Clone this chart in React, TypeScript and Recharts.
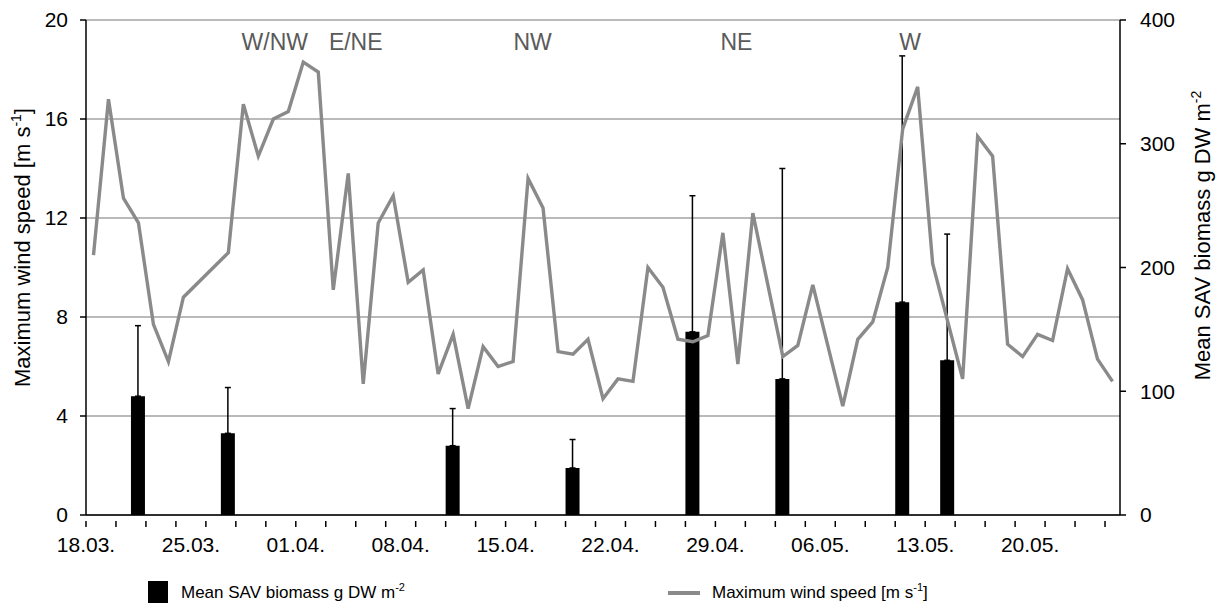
import React from 'react';
import {
  ComposedChart,
  Line,
  Bar,
  ErrorBar,
  XAxis,
  YAxis,
  CartesianGrid,
  ReferenceDot,
} from 'recharts';

// day 0 = 18.03.; daily maximum wind speed, null where no value was logged
const windSpeed: (number | null)[] = [
  10.5, 16.8, 12.8, 11.8, 7.7, 6.2, 8.8, null, null, 10.6,
  16.6, 14.5, 16.0, 16.3, 18.3, 17.9, 9.1, 13.8, 5.3, 11.8,
  12.9, 9.4, 9.9, 5.7, 7.3, 4.3, 6.8, 6.0, 6.2, 13.6,
  12.4, 6.6, 6.5, 7.1, 4.7, 5.5, 5.4, 10.0, 9.2, 7.1,
  7.0, 7.25, 11.4, 6.1, 12.2, null, 6.4, 6.85, 9.3, null,
  4.4, 7.1, 7.8, 10.0, 15.6, 17.3, 10.15, null, 5.5, 15.3,
  14.5, 6.9, 6.4, 7.3, 7.05, 9.95, 8.7, 6.3, 5.4,
];

// SAV sampling campaigns (day index), mean biomass and upper error
const sampleDays = [3, 9, 24, 32, 40, 46, 54, 57];
const biomassMean = [96, 66, 56, 38, 148, 110, 172, 125];
const biomassErr = [57, 37, 30, 23, 110, 170, 199, 102];

const dateLabels = ['18.03.', '25.03.', '01.04.', '08.04.', '15.04.', '22.04.', '29.04.', '06.05.', '13.05.', '20.05.'];

// prevailing wind direction during storm events
const windDirections = ['W/NW', 'E/NE', 'NW', 'NE', 'W'];
const directionDays = [12.6, 18.0, 29.8, 43.4, 55.0];

const DAYS = windSpeed.length;
const FONT = '"Liberation Sans", Arial, sans-serif';

const chartData = windSpeed.map((wind, i) => {
  const s = sampleDays.indexOf(i);
  return {
    day: i + 0.5,
    wind,
    biomass: s >= 0 ? biomassMean[s] : null,
    biomassErr: s >= 0 ? [0, biomassErr[s]] : undefined,
  };
});

// minor ticks every 2 days, labels every week
const xTicks = Array.from(new Set([
  ...Array.from({ length: 35 }, (_, k) => k * 2),
  ...dateLabels.map((_, k) => k * 7),
])).sort((a, b) => a - b);

const DayTick = ({ x, y, payload }: any) => {
  const v = payload.value as number;
  return (
    <g>
      {v % 2 === 0 && <line x1={x} x2={x} y1={y} y2={y + 6} stroke="#000" strokeWidth={1.5} />}
      {v % 7 === 0 && (
        <text x={x} y={y + 31} textAnchor="middle" fontSize={21} fontFamily={FONT} fill="#000">
          {dateLabels[v / 7]}
        </text>
      )}
    </g>
  );
};

const VerticalTitle = ({ cx, cy, main, sup, tail }: { cx: number; cy: number; main: string; sup: string; tail?: string }) => (
  <text
    x={cx}
    y={cy}
    transform={`rotate(-90 ${cx} ${cy})`}
    textAnchor="middle"
    fontSize={22}
    fontFamily={FONT}
    fill="#000"
  >
    {main}
    <tspan dy={-9} fontSize={14}>{sup}</tspan>
    {tail && <tspan dy={9}>{tail}</tspan>}
  </text>
);

export default function App() {
  return (
    <div style={{ position: 'absolute', left: 0, top: 0, width: 1227, height: 608, background: '#fff', fontFamily: FONT }}>
      <ComposedChart
        width={1227}
        height={608}
        data={chartData}
        margin={{ top: 20, right: 0, bottom: 0, left: 0 }}
      >
        <CartesianGrid
          xAxisId="days"
          yAxisId="wind"
          vertical={false}
          stroke="#a3a3a3"
          strokeWidth={1.5}
        />
        <XAxis
          xAxisId="days"
          dataKey="day"
          type="number"
          domain={[0, DAYS]}
          ticks={xTicks}
          interval={0}
          height={93}
          tickLine={false}
          tickMargin={0}
          axisLine={{ stroke: '#000', strokeWidth: 1.5 }}
          tick={<DayTick />}
        />
        <YAxis
          yAxisId="wind"
          domain={[0, 20]}
          ticks={[0, 4, 8, 12, 16, 20]}
          interval={0}
          width={86}
          tickSize={6}
          tickMargin={12}
          axisLine={{ stroke: '#000', strokeWidth: 1.5 }}
          tickLine={{ stroke: '#000', strokeWidth: 1.5 }}
          tick={{ fill: '#000', fontSize: 21, fontFamily: FONT }}
          label={(props: any) => (
            <VerticalTitle
              cx={props.viewBox.x + 30}
              cy={props.viewBox.y + props.viewBox.height / 2 - 20}
              main="Maximum wind speed [m s"
              sup="-1"
              tail="]"
            />
          )}
        />
        <YAxis
          yAxisId="bio"
          orientation="right"
          domain={[0, 400]}
          ticks={[0, 100, 200, 300, 400]}
          interval={0}
          width={107}
          tickSize={6}
          tickMargin={14}
          axisLine={{ stroke: '#000', strokeWidth: 1.5 }}
          tickLine={{ stroke: '#000', strokeWidth: 1.5 }}
          tick={{ fill: '#000', fontSize: 21, fontFamily: FONT, textAnchor: 'start' }}
          label={(props: any) => (
            <VerticalTitle
              cx={props.viewBox.x + 90}
              cy={props.viewBox.y + props.viewBox.height / 2 - 32}
              main="Mean SAV biomass g DW m"
              sup="-2"
            />
          )}
        />
        <Bar
          xAxisId="days"
          yAxisId="bio"
          dataKey="biomass"
          fill="#000"
          barSize={14}
          isAnimationActive={false}
        >
          <ErrorBar dataKey="biomassErr" direction="y" width={3} stroke="#000" strokeWidth={1.5} />
        </Bar>
        <Line
          xAxisId="days"
          yAxisId="wind"
          dataKey="wind"
          type="linear"
          stroke="#8a8a8a"
          strokeWidth={3.4}
          strokeLinejoin="miter"
          dot={false}
          activeDot={false}
          connectNulls
          isAnimationActive={false}
        />
        {windDirections.map((d, k) => (
          <ReferenceDot
            key={d + k}
            xAxisId="days"
            yAxisId="wind"
            x={directionDays[k]}
            y={19.1}
            r={0}
            fill="none"
            stroke="none"
            ifOverflow="visible"
            label={{ value: d, position: 'center', fill: '#5a5a5a', fontSize: 23, fontFamily: FONT }}
          />
        ))}
      </ComposedChart>

      <div style={{ position: 'absolute', left: 148, top: 581, width: 20, height: 22, background: '#000' }} />
      <div style={{ position: 'absolute', left: 181, top: 581, fontSize: 17, color: '#000', whiteSpace: 'nowrap' }}>
        Mean SAV biomass g DW m<sup style={{ fontSize: 11 }}>-2</sup>
      </div>
      <div style={{ position: 'absolute', left: 668, top: 591, width: 32, height: 4, background: '#8a8a8a' }} />
      <div style={{ position: 'absolute', left: 712, top: 581, fontSize: 17, color: '#000', whiteSpace: 'nowrap' }}>
        Maximum wind speed [m s<sup style={{ fontSize: 11 }}>-1</sup>]
      </div>
    </div>
  );
}
